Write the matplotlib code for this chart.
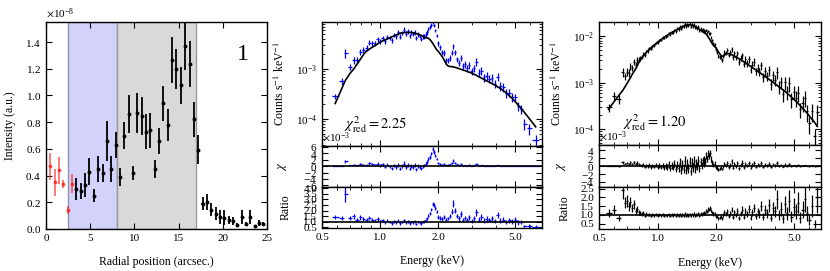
import numpy as np
import matplotlib.pyplot as plt
from matplotlib.ticker import MultipleLocator, FixedLocator, NullFormatter, LogLocator

plt.rcParams['font.family'] = ['Liberation Serif', 'DejaVu Serif']
plt.rcParams['mathtext.fontset'] = 'stix'
plt.rcParams['font.size'] = 8
plt.rcParams['axes.linewidth'] = 1.0

# ---- panel 1: radial profile (intensity in units of 1e-8) ----
r_red = [0.49, 0.98, 1.48, 1.97, 2.46, 2.95]
i_red = [0.47, 0.35, 0.44, 0.34, 0.145, 0.34]
ie_red = [0.10, 0.10, 0.10, 0.03, 0.03, 0.07]

r_blk = [3.44, 3.94, 4.43, 4.92, 5.41, 5.90, 6.40, 6.89, 7.38, 7.87, 8.36, 8.86,
         9.35, 9.84, 10.33, 10.82, 11.32, 11.81, 12.30, 12.79, 13.28, 13.78, 14.27,
         14.76, 15.25, 15.74, 16.24, 16.73, 17.22, 17.71, 18.20, 18.70, 19.19, 19.68,
         20.17, 20.66, 21.16, 21.65, 22.14, 22.63, 23.12, 23.62, 24.11, 24.60]
i_blk = [0.30, 0.285, 0.33, 0.43, 0.25, 0.45, 0.42, 0.66, 0.45, 0.63, 0.39, 0.70,
         0.86, 0.42, 0.87, 0.845, 0.73, 0.74, 0.45, 0.66, 0.94, 0.78, 1.265, 1.20,
         1.075, 1.37, 1.235, 0.82, 0.595, 0.19, 0.20, 0.145, 0.115, 0.09, 0.085,
         0.065, 0.06, 0.028, 0.09, 0.04, 0.09, 0.022, 0.045, 0.04]
ie_blk = [0.08, 0.06, 0.09, 0.10, 0.05, 0.10, 0.07, 0.15, 0.10, 0.10, 0.07, 0.10,
          0.14, 0.05, 0.15, 0.14, 0.13, 0.13, 0.07, 0.10, 0.13, 0.12, 0.17, 0.15,
          0.14, 0.18, 0.17, 0.13, 0.11, 0.05, 0.06, 0.05, 0.05, 0.05, 0.055, 0.03,
          0.03, 0.015, 0.05, 0.01, 0.05, 0.01, 0.02, 0.015]

# ---- panel 2: spectrum (blue), model in units of 1e-3 ----
en2 = [0.585, 0.635, 0.66, 0.70, 0.73, 0.76, 0.79, 0.82, 0.85, 0.88, 0.91, 0.94,
       0.97, 1.00, 1.03, 1.06, 1.09, 1.12, 1.15, 1.18, 1.21, 1.24, 1.27, 1.30,
       1.33, 1.36, 1.39, 1.42, 1.45, 1.48, 1.51, 1.54, 1.57, 1.60, 1.63, 1.66,
       1.69, 1.72, 1.75, 1.78, 1.81, 1.84, 1.87, 1.90, 1.93, 1.96, 2.00, 2.05,
       2.10, 2.15, 2.20, 2.25, 2.30, 2.35, 2.40, 2.45, 2.50, 2.56, 2.62, 2.68,
       2.75, 2.82, 2.90, 2.98, 3.06, 3.15, 3.25, 3.35, 3.45, 3.56, 3.68, 3.80,
       3.93, 4.06, 4.20, 4.35, 4.50, 4.66, 4.83, 5.00, 5.20, 5.40, 5.60, 5.90, 6.40]
mod2 = [0.205, 0.42, 0.59, 0.83, 1.00, 1.26, 1.57, 1.94, 2.29, 2.49, 2.72, 2.94,
        3.18, 3.44, 3.64, 3.82, 4.00, 4.20, 4.39, 4.59, 4.79, 4.99, 5.19, 5.30,
        5.35, 5.38, 5.40, 5.40, 5.38, 5.33, 5.22, 5.10, 4.95, 4.85, 4.70, 4.50,
        4.32, 4.22, 4.18, 4.10, 3.90, 3.60, 3.30, 3.00, 2.70, 2.45, 2.25, 2.00,
        1.75, 1.50, 1.25, 1.15, 1.12, 1.12, 1.10, 1.08, 1.05, 1.02, 0.99, 0.96,
        0.93, 0.90, 0.86, 0.83, 0.79, 0.75, 0.70, 0.66, 0.62, 0.58, 0.55, 0.51,
        0.48, 0.44, 0.41, 0.37, 0.335, 0.295, 0.26, 0.225, 0.19, 0.16, 0.135, 0.105, 0.07]
rat2 = [1.40, 1.35, 3.5, 1.35, 1.5, 1.2, 1.4, 1.25, 1.15, 1.35, 1.2, 1.1,
        1.25, 1.05, 1.15, 0.95, 1.1, 1.0, 0.85, 1.05, 0.95, 1.1, 0.85, 1.0,
        1.15, 0.95, 1.05, 0.85, 1.0, 0.95, 1.05, 0.82, 1.0, 0.95, 0.85, 1.0,
        1.05, 1.15, 1.3, 1.55, 1.75, 2.1, 2.6, 2.5, 2.2, 1.9, 1.45, 1.35,
        1.25, 1.4, 1.2, 1.3, 1.5, 1.9, 2.6, 2.0, 1.5, 1.3, 1.7, 1.2,
        1.35, 1.15, 1.4, 1.1, 1.3, 1.85, 1.2, 1.4, 1.1, 1.25, 1.15, 1.3,
        1.05, 1.6, 1.1, 1.2, 1.0, 1.15, 1.05, 1.2, 0.95, 1.0, 0.60, 0.62, 0.55]
rerr2 = [0.12, 0.15, 0.20, 0.15, 0.15, 0.14, 0.14, 0.13, 0.13, 0.12, 0.12, 0.12,
         0.12, 0.11, 0.11, 0.11, 0.11, 0.11, 0.11, 0.11, 0.11, 0.11, 0.11, 0.11,
         0.11, 0.11, 0.11, 0.11, 0.11, 0.11, 0.11, 0.11, 0.11, 0.11, 0.11, 0.11,
         0.11, 0.11, 0.10, 0.09, 0.09, 0.08, 0.08, 0.08, 0.08, 0.08, 0.12, 0.12,
         0.12, 0.12, 0.12, 0.12, 0.12, 0.12, 0.12, 0.12, 0.12, 0.15, 0.15, 0.15,
         0.15, 0.15, 0.15, 0.15, 0.15, 0.18, 0.18, 0.18, 0.18, 0.18, 0.18, 0.18,
         0.18, 0.18, 0.20, 0.20, 0.20, 0.20, 0.20, 0.20, 0.20, 0.20, 0.25, 0.25, 0.25]

# ---- panel 3: spectrum (black), model in units of 1e-3 ----
en3 = [0.56, 0.60, 0.63, 0.665, 0.68, 0.695, 0.71, 0.725, 0.74, 0.755, 0.77, 0.785,
       0.80, 0.815, 0.83, 0.845, 0.86, 0.875, 0.89, 0.905, 0.92, 0.94, 0.96, 0.98,
       1.00, 1.02, 1.04, 1.06, 1.08, 1.10, 1.12, 1.14, 1.16, 1.18, 1.20, 1.22,
       1.24, 1.26, 1.28, 1.30, 1.32, 1.34, 1.36, 1.38, 1.40, 1.42, 1.44, 1.46,
       1.48, 1.50, 1.52, 1.54, 1.56, 1.58, 1.60, 1.62, 1.64, 1.66, 1.68, 1.70,
       1.72, 1.74, 1.76, 1.78, 1.80, 1.82, 1.84, 1.86, 1.88, 1.90, 1.93, 1.96,
       1.99, 2.02, 2.05, 2.08, 2.11, 2.14, 2.17, 2.20, 2.24, 2.28, 2.32, 2.36,
       2.40, 2.44, 2.48, 2.52, 2.57, 2.62, 2.67, 2.72, 2.77, 2.82, 2.88, 2.94,
       3.00, 3.06, 3.12, 3.19, 3.26, 3.33, 3.40, 3.48, 3.56, 3.64, 3.72, 3.81,
       3.90, 3.99, 4.09, 4.19, 4.29, 4.40, 4.51, 4.62, 4.74, 4.86, 4.99, 5.12,
       5.26, 5.40, 5.55, 5.70, 5.86, 6.02, 6.20, 6.40, 6.60]
mod3 = [0.27, 0.40, 0.52, 0.70, 0.82, 0.95, 1.10, 1.28, 1.50, 1.72, 1.95, 2.30,
        2.70, 3.05, 3.40, 3.80, 4.15, 4.45, 4.80, 5.15, 5.50, 5.95, 6.40, 6.90,
        7.40, 7.85, 8.40, 8.90, 9.40, 9.90, 10.4, 10.9, 11.4, 11.9, 12.4, 12.9,
        13.4, 13.9, 14.4, 14.9, 15.4, 15.9, 16.4, 16.9, 17.2, 17.4, 17.5, 17.4,
        17.2, 16.9, 16.6, 16.2, 15.8, 15.3, 14.8, 14.3, 13.8, 13.3, 12.8, 12.4,
        12.0, 11.7, 11.4, 10.8, 10.2, 9.5, 8.8, 8.2, 7.6, 7.0, 6.4, 6.0,
        5.6, 5.1, 4.6, 4.2, 3.9, 3.7, 3.7, 3.9, 4.1, 4.2, 4.2, 4.1,
        4.0, 3.85, 3.7, 3.55, 3.4, 3.25, 3.1, 2.95, 2.8, 2.65, 2.5, 2.37,
        2.24, 2.12, 2.0, 1.88, 1.76, 1.66, 1.56, 1.45, 1.36, 1.27, 1.19, 1.11,
        1.03, 0.96, 0.89, 0.82, 0.76, 0.70, 0.64, 0.59, 0.54, 0.49, 0.44, 0.40,
        0.36, 0.32, 0.285, 0.25, 0.22, 0.19, 0.165, 0.14, 0.115]
rat3 = [1.10, 1.30, 0.85, 2.4, 1.7, 1.8, 1.5, 1.75, 1.4, 1.6, 1.25, 1.35,
        1.15, 1.1, 1.05, 1.1, 0.95, 1.05, 1.0, 1.05, 0.97, 1.02, 0.98, 1.03,
        0.97, 1.02, 0.98, 1.03, 0.97, 1.01, 0.98, 1.04, 0.96, 1.02, 0.98, 1.05,
        0.95, 1.03, 0.97, 1.06, 0.94, 1.02, 0.96, 1.08, 0.95, 1.03, 0.97, 1.06,
        0.93, 1.05, 0.98, 1.08, 0.95, 1.04, 1.0, 1.1, 0.96, 1.08, 1.02, 1.12,
        1.05, 1.15, 1.1, 1.25, 1.18, 1.35, 1.3, 1.4, 1.25, 1.15, 1.05, 1.1,
        0.95, 0.9, 0.8, 0.85, 0.9, 0.82, 1.0, 1.15, 1.05, 1.2, 0.95, 1.1,
        1.3, 0.9, 1.15, 1.0, 1.25, 0.85, 1.1, 1.3, 0.9, 1.2, 1.05, 1.35,
        0.85, 1.15, 1.4, 0.95, 1.2, 1.05, 1.5, 0.9, 1.3, 1.1, 1.55, 0.85,
        1.4, 1.2, 1.9, 1.0, 1.35, 0.8, 1.6, 1.1, 1.8, 0.9, 1.45, 1.2,
        1.7, 0.85, 1.3, 1.9, 1.1, 0.7, 1.5, 0.5, 2.0]
rerr3 = [0.20, 0.20, 0.20, 0.20, 0.18, 0.18, 0.18, 0.17, 0.16, 0.15, 0.14, 0.13,
         0.12, 0.11, 0.10, 0.10, 0.09, 0.09, 0.08, 0.08, 0.08, 0.07, 0.07, 0.07,
         0.07, 0.07, 0.07, 0.07, 0.07, 0.07, 0.07, 0.07, 0.07, 0.07, 0.07, 0.07,
         0.07, 0.07, 0.07, 0.07, 0.07, 0.07, 0.07, 0.07, 0.07, 0.07, 0.07, 0.07,
         0.07, 0.07, 0.07, 0.07, 0.07, 0.07, 0.07, 0.07, 0.07, 0.07, 0.07, 0.07,
         0.07, 0.07, 0.07, 0.07, 0.07, 0.07, 0.07, 0.07, 0.08, 0.08, 0.09, 0.09,
         0.10, 0.10, 0.10, 0.10, 0.10, 0.10, 0.10, 0.10, 0.11, 0.11, 0.11, 0.11,
         0.12, 0.12, 0.12, 0.12, 0.14, 0.14, 0.14, 0.15, 0.15, 0.15, 0.16, 0.16,
         0.17, 0.17, 0.18, 0.18, 0.19, 0.20, 0.20, 0.21, 0.22, 0.23, 0.24, 0.25,
         0.26, 0.27, 0.28, 0.30, 0.30, 0.32, 0.32, 0.33, 0.34, 0.35, 0.35, 0.36,
         0.36, 0.37, 0.38, 0.38, 0.40, 0.40, 0.42, 0.45, 0.45]

LABEL = 8.5


def style(ax):
    ax.tick_params(which='both', direction='in', top=True, right=True, labelsize=8)
    ax.tick_params(which='major', length=4, width=0.8)
    ax.tick_params(which='minor', length=2, width=0.6)


def energy_axis(ax, labels):
    ax.set_xscale('log')
    ax.set_xlim(0.5, 6.9)
    ax.xaxis.set_major_locator(FixedLocator([0.5, 1.0, 2.0, 5.0]))
    ax.xaxis.set_minor_locator(FixedLocator([0.6, 0.7, 0.8, 0.9, 3.0, 4.0, 6.0]))
    ax.xaxis.set_minor_formatter(NullFormatter())
    if labels:
        ax.set_xticklabels(['0.5', '1.0', '2.0', '5.0'])
    else:
        ax.set_xticklabels([])


def spectrum(left, width, rows, en, mod, rat, rerr, color, ylim, reslim, res_step,
             ratlim, chi_text, text_pos, lab_x):
    en = np.array(en)
    model = np.array(mod) * 1e-3
    ratio = np.array(rat)
    counts = model * ratio
    err = counts * np.array(rerr)
    mid = np.sqrt(en[1:] * en[:-1])
    lo = np.r_[en[0] - (mid[0] - en[0]), mid]
    hi = np.r_[mid, en[-1] + (en[-1] - mid[-1])]
    xerr = [en - lo, hi - en]

    (b0, h0), (b1, h1), (b2, h2) = rows
    ax = fig.add_axes([left, b0, width, h0])
    ax.errorbar(en, counts, xerr=xerr, yerr=err, fmt='none', ecolor=color, elinewidth=0.9)
    ax.plot(en, model, color='k', lw=1.2)
    ax.set_yscale('log')
    ax.set_ylim(*ylim)
    ax.yaxis.set_minor_locator(LogLocator(base=10, subs=np.arange(2, 10)))
    ax.yaxis.set_minor_formatter(NullFormatter())
    energy_axis(ax, False)
    style(ax)
    ax.set_ylabel(r'Counts s$^{-1}$ keV$^{-1}$', fontsize=LABEL)
    ax.yaxis.set_label_coords(lab_x[0], 0.5)
    ax.text(text_pos[0], text_pos[1], chi_text, transform=ax.transAxes, fontsize=10.5)

    axc = fig.add_axes([left, b1, width, h1])
    axc.errorbar(en, counts - model, xerr=xerr, yerr=err, fmt='none', ecolor=color, elinewidth=0.9)
    axc.axhline(0, color='k', lw=1.2)
    axc.set_ylim(*reslim)
    axc.yaxis.set_major_locator(MultipleLocator(res_step))
    axc.ticklabel_format(axis='y', style='sci', scilimits=(0, 0), useMathText=True)
    axc.yaxis.get_offset_text().set_fontsize(8)
    energy_axis(axc, False)
    style(axc)
    axc.set_ylabel(r'$\chi$', fontsize=9)
    axc.yaxis.set_label_coords(lab_x[1], 0.5)

    axr = fig.add_axes([left, b2, width, h2])
    axr.errorbar(en, ratio, xerr=xerr, yerr=err / model, fmt='none', ecolor=color, elinewidth=0.9)
    axr.axhline(1, color='k', lw=1.2)
    axr.set_ylim(*ratlim)
    axr.yaxis.set_major_locator(MultipleLocator(0.5))
    energy_axis(axr, True)
    style(axr)
    axr.set_ylabel('Ratio', fontsize=LABEL)
    axr.yaxis.set_label_coords(lab_x[2], 0.5)
    axr.set_xlabel('Energy (keV)', fontsize=LABEL)
    axr.xaxis.set_label_coords(0.5, -0.66)


fig = plt.figure(figsize=(8.3, 2.71), dpi=100)

# panel 1
ax1 = fig.add_axes([0.0554, 0.155, 0.2663, 0.7638])
ax1.axvspan(2.5, 8.0, facecolor='#d2d2fb', edgecolor='#8f8fb0', lw=1.0, zorder=0)
ax1.axvspan(8.0, 17.0, facecolor='#d9d9d9', edgecolor='#9a9a9a', lw=1.0, zorder=0)
ax1.errorbar(r_red, np.array(i_red) * 1e-8, xerr=0.12, yerr=np.array(ie_red) * 1e-8,
             fmt='o', ms=1.8, color='#ff2020', alpha=0.65, elinewidth=1.3, capsize=0)
ax1.errorbar(r_blk, np.array(i_blk) * 1e-8, xerr=0.12, yerr=np.array(ie_blk) * 1e-8,
             fmt='o', ms=1.8, color='k', elinewidth=1.3, capsize=0)
ax1.set_xlim(0, 25)
ax1.set_ylim(0, 1.55e-8)
ax1.xaxis.set_major_locator(MultipleLocator(5))
ax1.yaxis.set_major_locator(MultipleLocator(0.2e-8))
ax1.ticklabel_format(axis='y', style='sci', scilimits=(0, 0), useMathText=True)
ax1.yaxis.get_offset_text().set_fontsize(8)
style(ax1)
ax1.set_xlabel('Radial position (arcsec.)', fontsize=LABEL)
ax1.xaxis.set_label_coords(0.5, -0.13)
ax1.set_ylabel('Intensity (a.u.)', fontsize=LABEL)
ax1.yaxis.set_label_coords(-0.135, 0.5)
ax1.text(22.3, 1.31e-8, '1', fontsize=17, ha='center', va='center')

# panel 2
spectrum(0.388, 0.265, [(0.4613, 0.4575), (0.31, 0.1513), (0.1587, 0.1513)],
         en2, mod2, rat2, rerr2, '#0000ff', (2.9e-5, 8.7e-3), (-6.5e-3, 6.3e-3), 2e-3,
         (0.45, 4.1), r'$\chi^2_{\rm red} = 2.25$', (0.1, 0.14), (-0.16, -0.148, -0.14))

# panel 3
spectrum(0.7217, 0.2675, [(0.465, 0.4538), (0.31, 0.155), (0.155, 0.155)],
         en3, mod3, rat3, rerr3, 'k', (4.6e-5, 2.0e-2), (-5.3e-3, 5.4e-3), 2e-3,
         (0.2, 2.6), r'$\chi^2_{\rm red} = 1.20$', (0.11, 0.15), (-0.158, -0.14, -0.128))

fig.savefig('out.png', dpi=100)
